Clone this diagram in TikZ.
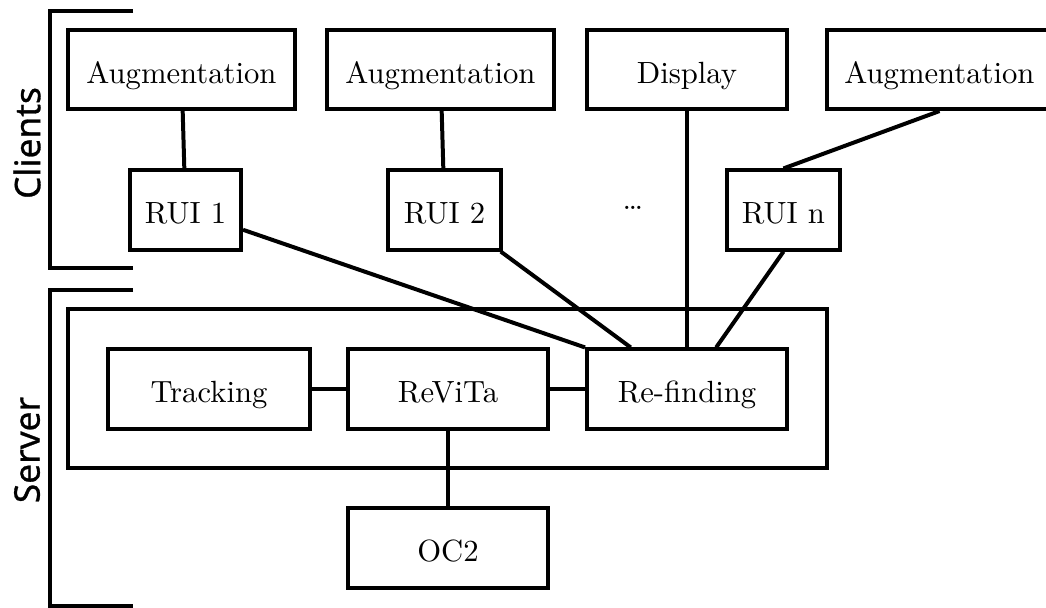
\documentclass[tikz,border=0pt]{standalone}
\usepackage{fontspec}
\newfontfamily\sidefont[FakeBold=0.8]{Noto Sans}
\usepackage{tikz}
\usetikzlibrary{calc}
\usetikzlibrary{positioning}

\tikzset{
	box/.style={draw,line width=1.3pt,minimum height=25.8pt,inner sep=2pt,text height=9pt,text depth=0pt},
	boxw/.style={box,minimum width=#1},
	link/.style={line width=1.3pt},
	side/.style={rotate=90,font=\sidefont\fontsize{11.5}{13}\selectfont}
}

\begin{document}
\begin{tikzpicture}[x=0.326pt,y=-0.326pt]
	\useasboundingbox (0,0) rectangle (1046,608);
	% brackets and side labels
	\draw[link] (133,11) -- (50,11) -- (50,268) -- (133,268);
	\draw[link] (133,290) -- (50,290) -- (50,606) -- (133,606);
	\node[side] (clientslbl) at (27,143) {Clients};
	\node[side] (serverlbl) at (27,450) {Server};
	% clients
	\node[boxw=74pt] (aug1) at (181.5,69.5) {Augmentation};
	\node[boxw=74pt] (aug2) at (440.5,69.5) {Augmentation};
	\node[boxw=65.2pt] (disp) at (687,69.5) {Display};
	\node[boxw=73.4pt] (aug3) at (939.5,69.5) {Augmentation};
	\node[boxw=36.2pt] (rui1) at (185.5,210) {RUI 1};
	\node[boxw=36.8pt] (rui2) at (444.5,210) {RUI 2};
	\node[boxw=36.8pt] (ruin) at (783.5,210) {RUI n};
	\node (dots) at (633,208) {\dots};
	% server
	\node[draw,line width=1.3pt,minimum width=247.4pt,minimum height=51.8pt] (server) at (447.5,388.5) {};
	\node[boxw=65.9pt] (track) at (209,389) {Tracking};
	\node[boxw=65.2pt] (revita) at (448,389) {ReViTa};
	\node[boxw=65.2pt] (refind) at (687,389) {Re-finding};
	\node[boxw=65.2pt] (oc2) at (448,548) {OC2};
	% links
	\draw[link] (aug1) -- (rui1);
	\draw[link] (aug2) -- (rui2);
	\draw[link] (aug3.south) -- (ruin.north);
	\draw[link] (disp) -- (refind);
	\draw[link] (rui1) -- (refind.north west);
	\draw[link] (rui2) -- (refind);
	\draw[link] (ruin.south) -- (refind);
	\draw[link] (track) -- (revita);
	\draw[link] (revita) -- (refind);
	\draw[link] (revita) -- (oc2);
\end{tikzpicture}
\end{document}
